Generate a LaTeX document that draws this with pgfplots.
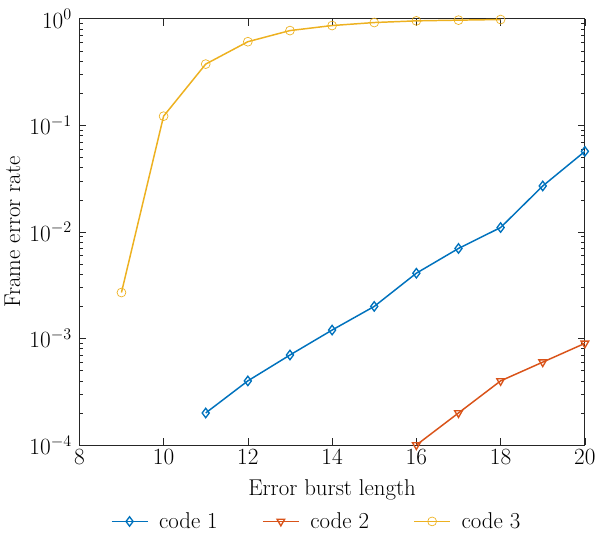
\documentclass[border=0pt]{standalone}
\usepackage{pgfplots}
\pgfplotsset{compat=1.18}

\definecolor{mblue}{rgb}{0,0.447,0.741}
\definecolor{morange}{rgb}{0.85,0.325,0.098}
\definecolor{myellow}{rgb}{0.929,0.694,0.125}
\definecolor{axgray}{rgb}{0.15,0.15,0.15}

\begin{document}
\begin{tikzpicture}
  \begin{axis}[
    scale only axis,
    width=376pt, height=317pt,
    ymode=log,
    xmin=8, xmax=20,
    ymin=1e-4, ymax=1,
    xtick={8,10,...,20},
    ytick={1e-4,1e-3,1e-2,1e-1,1},
    xlabel={Error burst length},
    ylabel={Frame error rate},
    font=\fontsize{17}{20}\selectfont,
    tick label style={font=\fontsize{17}{20}\selectfont},
    yticklabel style={xshift=-2pt},
    tick align=inside,
    major tick length=5pt,
    minor tick length=3pt,
    axis line style={axgray, line width=0.6pt},
    every tick/.style={axgray, line width=0.5pt},
    xlabel style={yshift=-4pt},
    legend style={at={(0.47,-0.145)}, anchor=north, draw=none, fill=none,
      legend columns=3, font=\fontsize{17}{20}\selectfont,
      /tikz/every odd column/.append style={column sep=6pt},
      /tikz/every even column/.append style={column sep=31pt}},
    legend image code/.code={
      \draw[mark repeat=2, mark phase=2] plot coordinates {
        (0cm,0cm) (0.47cm,0cm) (0.94cm,0cm)};
    },
  ]
    \addplot[mblue, line width=1.1pt, mark=diamond, mark size=3.5pt,
      mark options={solid, line width=1pt}] coordinates {
      (11,2e-4) (12,4e-4) (13,7e-4) (14,1.2e-3) (15,2e-3) (16,4.1e-3)
      (17,7e-3) (18,1.1e-2) (19,2.7e-2) (20,5.7e-2)
    };
    \addlegendentry{code 1}

    \addplot[morange, line width=1.1pt, mark=triangle, mark size=3.3pt,
      mark options={solid, rotate=180, line width=1pt}] coordinates {
      (16,1e-4) (17,2e-4) (18,4e-4) (19,6e-4) (20,9e-4)
    };
    \addlegendentry{code 2}

    \addplot[myellow, line width=1.1pt, mark=o, mark size=3.3pt,
      mark options={solid, line width=0.5pt}] coordinates {
      (9,2.7e-3) (10,0.122) (11,0.376) (12,0.61) (13,0.776) (14,0.865)
      (15,0.923) (16,0.957) (17,0.972) (18,0.985)
    };
    \addlegendentry{code 3}
  \end{axis}
  % a little room above the top tick label, as in the reference
  \path (current axis.north) ++(0,14pt);
\end{tikzpicture}
\end{document}
